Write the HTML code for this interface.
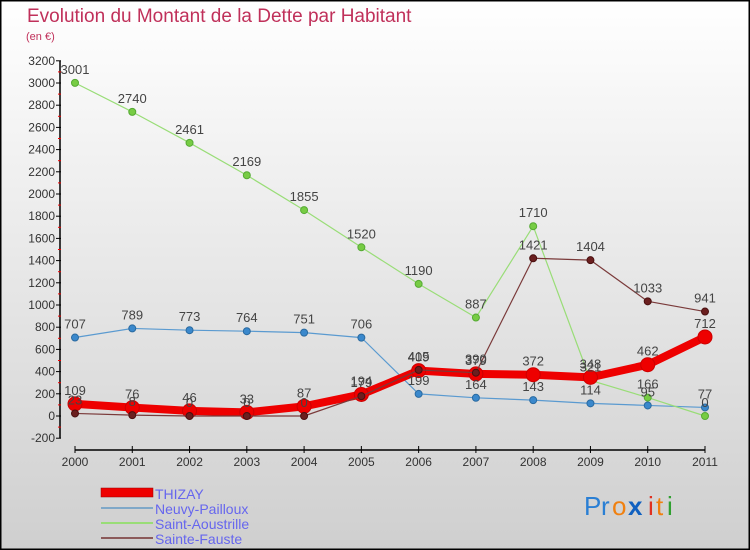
<!DOCTYPE html>
<html><head><meta charset="utf-8"><style>
body{margin:0;}
#wrap{width:750px;height:550px;position:relative;overflow:hidden;font-family:"Liberation Sans",sans-serif;}
svg text{font-family:"Liberation Sans",sans-serif;}
</style></head><body>
<div id="wrap">
<svg id="c" width="750" height="550" xmlns="http://www.w3.org/2000/svg">
<defs><linearGradient id="bg" x1="0" y1="0" x2="0" y2="1"><stop offset="0" stop-color="#ffffff"/><stop offset="1" stop-color="#cfcfcf"/></linearGradient></defs>
<rect x="0" y="0" width="750" height="550" fill="url(#bg)" stroke="#000" stroke-width="3"/>
<text x="27" y="22" font-size="19" fill="#c0305a">Evolution du Montant de la Dette par Habitant</text>
<text x="26" y="40" font-size="11" fill="#c0305a">(en €)</text>
<g id="axes"></g><g id="series"></g><g id="labels"></g>
<g>
<rect x="101" y="488" width="52" height="9" fill="#e00" stroke="#900" stroke-width="0.5"/>
<text x="155" y="499" font-size="14" fill="#6666ee">THIZAY</text>
<line x1="101" y1="508" x2="153" y2="508" stroke="#7fa8c8" stroke-width="2"/>
<text x="155" y="514" font-size="14" fill="#6666ee">Neuvy-Pailloux</text>
<line x1="101" y1="523" x2="153" y2="523" stroke="#99dd77" stroke-width="2"/>
<text x="155" y="529" font-size="14" fill="#6666ee">Saint-Aoustrille</text>
<line x1="101" y1="538" x2="153" y2="538" stroke="#8b5a5a" stroke-width="2"/>
<text x="155" y="544" font-size="14" fill="#6666ee">Sainte-Fauste</text>
</g>
<g font-size="26">
<text x="584" y="515" fill="#2a7fd4">P</text><text x="601" y="515" fill="#2a7fd4">r</text><text x="612" y="515" fill="#f08010">o</text><text x="628" y="515" fill="#1060c0" font-weight="bold">x</text><text x="648" y="515" fill="#e03020">i</text><text x="656" y="515" fill="#f08010">t</text><text x="667" y="515" fill="#30a030">i</text>
</g>
</svg></div>
<script>
const years=["2000","2001","2002","2003","2004","2005","2006","2007","2008","2009","2010","2011"];
const thizay=[109,76,46,33,87,194,409,379,372,348,462,712];
const neuvy=[707,789,773,764,751,706,199,164,143,114,95,77];
const aoustrille=[3001,2740,2461,2169,1855,1520,1190,887,1710,321,166,0];
const fauste=[23,8,0,0,0,179,415,390,1421,1404,1033,941];
const yTicks=[-200,0,200,400,600,800,1000,1200,1400,1600,1800,2000,2200,2400,2600,2800,3000,3200];
const NS="http://www.w3.org/2000/svg";
const X=i=>75+i*(630/11);
const Y=v=>416-v*(22.2/200);
function mk(tag,attrs,parent,txt){const e=document.createElementNS(NS,tag);for(const k in attrs)e.setAttribute(k,attrs[k]);if(txt!==undefined)e.textContent=txt;document.getElementById(parent).appendChild(e);return e;}
let e;
e=mk('line',{x1:60,y1:Y(3200),x2:60,y2:Y(-200),stroke:'#000','stroke-width':1.5},'axes');


e=mk('line',{x1:75,y1:450,x2:705,y2:450,stroke:'#000','stroke-width':1.5},'axes');


yTicks.forEach((t,i)=>{
 e=mk('line',{x1:56,y1:Y(t),x2:61,y2:Y(t),stroke:'#000'},'axes');
 
 
 e=mk('text',{x:55,y:Y(t)+4,'font-size':12,fill:'#333','text-anchor':'end'},'axes',String(t));
 
 
 if(i<yTicks.length-1){e=mk('line',{x1:58,y1:Y(t+100),x2:61,y2:Y(t+100),stroke:'#e00'},'axes');
 
 }
});
years.forEach((y,i)=>{
 e=mk('line',{x1:X(i),y1:446,x2:X(i),y2:453,stroke:'#000'},'axes');
 
 
 e=mk('text',{x:X(i),y:466,'font-size':12,fill:'#333','text-anchor':'middle'},'axes',y);
 
 
});
function series(name,data,color,w,r,fill,stroke){
 const pts=data.map((v,i)=>X(i)+','+Y(v)).join(' ');
 e=mk('polyline',{points:pts,fill:'none',stroke:color,'stroke-width':w,'stroke-linejoin':'round'},'series');
 
 
 data.forEach((v,i)=>{
  e=mk('circle',{cx:X(i),cy:Y(v),r:r,fill:fill,stroke:stroke,'stroke-width':1},'series');
  
  
  e=mk('text',{x:X(i),y:Y(v)-9,'font-size':13,fill:'#444','text-anchor':'middle'},'labels',String(v));
  
  
 });
}
series('neuvy',neuvy,'#5a9ad0',1.2,3.5,'#3a88cc','#2a6aa0');
series('aoustrille',aoustrille,'#99dd77',1.2,3.5,'#77cc44','#55aa33');
series('thizay',thizay,'#ee0000',8,7,'#ee0000','#cc0000');
series('fauste',fauste,'#7a3a3a',1.2,3.5,'#6b1f1f','#4a1010');
</script>
</body></html>
